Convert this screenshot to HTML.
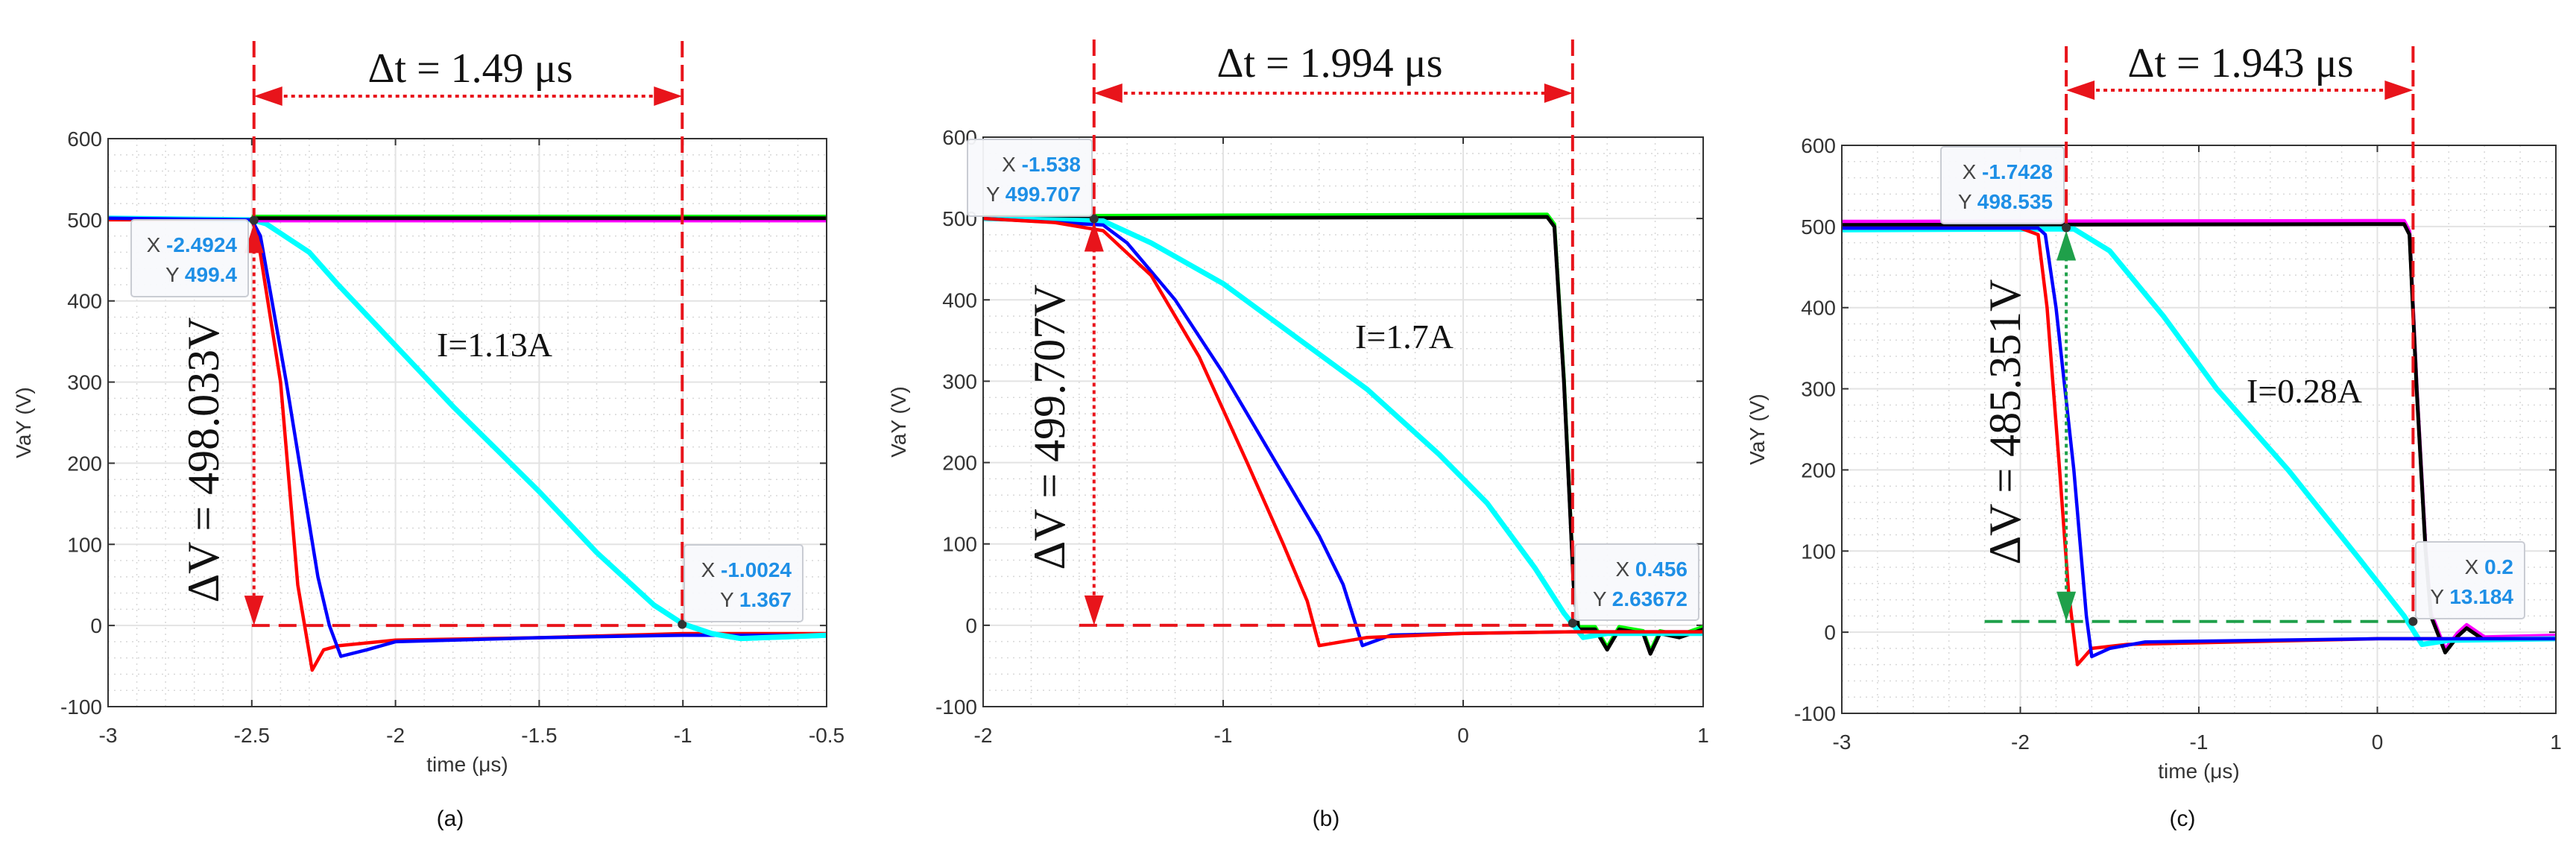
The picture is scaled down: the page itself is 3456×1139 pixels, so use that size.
<!DOCTYPE html>
<html><head><meta charset="utf-8"><style>
html,body{margin:0;padding:0;background:#fff;}
svg{display:block;}
</style></head><body>
<svg id="fig" width="3456" height="1139" xmlns="http://www.w3.org/2000/svg"></svg>
<script>
// ---- Panel (a) data ----
const aX_black=[-2.5,-0.5], aY_black=[502,502];
const aX_cyan=[-3,-2.5,-2.45,-2.3,-2.2,-2.0,-1.8,-1.5,-1.3,-1.1,-1.0,-0.9,-0.8,-0.5];
const aY_cyan=[502,500,495,460,420,345,270,165,90,25,2,-10,-16,-12];
const aX_red=[-3,-2.5,-2.48,-2.4,-2.34,-2.29,-2.25,-2.2,-2.0,-1.5,-1.0,-0.5];
const aY_red=[500,500,480,300,50,-55,-30,-25,-18,-15,-10,-10];
const aX_blue=[-3,-2.5,-2.47,-2.38,-2.27,-2.23,-2.19,-2.1,-2.0,-1.5,-1.0,-0.5];
const aY_blue=[502,500,480,300,60,0,-38,-30,-20,-15,-12,-12];
const aXTicks=[-3,-2.5,-2,-1.5,-1,-0.5];
const aXTickLabels=["-3","-2.5","-2","-1.5","-1","-0.5"];
// ---- Panel (b) data ----
const bX_black=[-2,0.35,0.38,0.42,0.46,0.48,0.55,0.6,0.65,0.75,0.78,0.82,0.9,1];
const bY_black=[500,502,490,300,50,-5,-5,-30,-5,-10,-35,-10,-15,-5];
const bX_red=[-2,-1.7,-1.5,-1.3,-1.1,-0.9,-0.75,-0.65,-0.6,-0.5,-0.4,0,0.45,1];
const bY_red=[500,495,485,430,330,200,100,30,-25,-20,-15,-10,-8,-8];
const bX_blue=[-2,-1.5,-1.4,-1.2,-1.0,-0.8,-0.6,-0.5,-0.42,-0.3,0,0.45,1];
const bY_blue=[500,492,470,400,310,210,110,50,-25,-12,-10,-8,-8];
const bX_cyan=[-2,-1.5,-1.3,-1.0,-0.7,-0.4,-0.1,0.1,0.3,0.42,0.5,0.6,1];
const bY_cyan=[500,497,470,420,355,290,210,150,70,15,-15,-10,-10];
const bXTicks=[-2,-1,0,1];
const bXTickLabels=["-2","-1","0","1"];
// ---- Panel (c) data ----
const cX_black=[-3,0.15,0.18,0.22,0.27,0.3,0.38,0.45,0.5,0.6,1];
const cY_black=[502,503,490,300,100,20,-25,-5,5,-10,-8];
const cX_red=[-3,-2.0,-1.9,-1.85,-1.78,-1.73,-1.68,-1.6,-1.4,0,1];
const cY_red=[498,498,490,400,200,50,-40,-20,-15,-8,-8];
const cX_blue=[-3,-1.9,-1.86,-1.8,-1.7,-1.63,-1.6,-1.5,-1.3,0,1];
const cY_blue=[498,498,490,400,200,20,-30,-20,-12,-8,-8];
const cX_cyan=[-3,-1.7,-1.5,-1.2,-0.9,-0.5,-0.1,0.15,0.25,0.4,1];
const cY_cyan=[496,497,470,390,300,200,90,20,-15,-10,-8];
const cXTicks=[-3,-2,-1,0,1];
const cXTickLabels=["-3","-2","-1","0","1"];
const yTicks=[-100,0,100,200,300,400,500,600];
const yTickLabels=["-100","0","100","200","300","400","500","600"];

const NS="http://www.w3.org/2000/svg";
const svg=document.getElementById('fig');
function mk(tag,attrs,parent,text){const e=document.createElementNS(NS,tag);for(const k in attrs)e.setAttribute(k,attrs[k]);if(text!==undefined)e.textContent=text;(parent||svg).appendChild(e);return e;}

const panels=[
 {id:'a',L:145,R:1109,T:186,B:948,x0:-3,x1:-0.5,minor:0.1,xt:aXTicks,xl:aXTickLabels,
  series:[['#00ffff',aX_cyan,aY_cyan],['#ff00ff',aX_black,aY_black.map(v=>v-3)],['#00ff00',aX_black,aY_black.map(v=>v+2)],['#000',aX_black,aY_black],['#ff0000',aX_red,aY_red],['#0000ff',aX_blue,aY_blue],['#00ffff',aX_cyan.slice(9),aY_cyan.slice(9)]],
  m1:[-2.4924,499.4],m2:[-1.0024,1.367],t1:['-2.4924','499.4'],t2:['-1.0024','1.367'],
  box1:[176,295,157,103],box2:[918,731,159,103],dv:'ΔV = 498.033V',dvx:271,dvy:617,dt:'Δt = 1.49 μs',dtx:631,dty:110,arrY:129,
  I:'I=1.13A',Ix:586,Iy:478,hcol:'#e8141b',hy:0,hx0:-2.5,xlabel:true,cap:'(a)',capx:604,vtop:55},
 {id:'b',L:1319,R:2285,T:184,B:948,x0:-2,x1:1,minor:0.2,xt:bXTicks,xl:bXTickLabels,
  series:[['#ff00ff',bX_black,bY_black.map(v=>v+1)],['#00ff00',bX_black,bY_black.map(v=>v+3)],['#000',bX_black,bY_black],['#00ffff',bX_cyan,bY_cyan],['#0000ff',bX_blue,bY_blue],['#ff0000',bX_red,bY_red]],
  m1:[-1.538,499.707],m2:[0.456,2.63672],t1:['-1.538','499.707'],t2:['0.456','2.63672'],
  box1:[1298,187,167,103],box2:[2113,730,166,102],dv:'ΔV = 499.707V',dvx:1406,dvy:573,dt:'Δt = 1.994 μs',dtx:1784,dty:103,arrY:125,
  I:'I=1.7A',Ix:1818,Iy:467,hcol:'#e8141b',hy:0,hx0:-1.6,xlabel:false,cap:'(b)',capx:1779,vtop:53},
 {id:'c',L:2471,R:3429,T:195,B:957,x0:-3,x1:1,minor:0.2,xt:cXTicks,xl:cXTickLabels,
  series:[['#00ff00',cX_black,cY_black.map(v=>v+3)],['#ff00ff',cX_black,cY_black.map(v=>v+4)],['#000',cX_black,cY_black],['#00ffff',cX_cyan,cY_cyan],['#ff0000',cX_red,cY_red],['#0000ff',cX_blue,cY_blue]],
  m1:[-1.7428,498.535],m2:[0.2,13.184],t1:['-1.7428','498.535'],t2:['0.2','13.184'],
  box1:[2604,197,165,103],box2:[3241,727,146,103],dv:'ΔV = 485.351V',dvx:2688,dvy:566,dt:'Δt = 1.943 μs',dtx:3006,dty:103,arrY:121,
  I:'I=0.28A',Ix:3014,Iy:540,hcol:'#1fa04a',hy:13.184,hx0:-2.2,xlabel:true,cap:'(c)',capx:2928,vtop:62}
];

panels.forEach(p=>{
  const g=mk('g',{});  
  const sx=v=>p.L+(v-p.x0)/(p.x1-p.x0)*(p.R-p.L);
  const sy=v=>p.B-(v+100)/700*(p.B-p.T);
  for(let v=p.x0;v<=p.x1+1e-9;v+=p.minor){mk('line',{x1:sx(v),x2:sx(v),y1:p.T,y2:p.B,stroke:'#d8d8d8','stroke-width':1.5,'stroke-dasharray':'2,6'},g);}
  for(let v=-100;v<=600;v+=20){mk('line',{x1:p.L,x2:p.R,y1:sy(v),y2:sy(v),stroke:'#d8d8d8','stroke-width':1.5,'stroke-dasharray':'2,6'},g);}
  p.xt.forEach((v,i)=>{mk('line',{x1:sx(v),x2:sx(v),y1:p.T,y2:p.B,stroke:'#e3e3e3','stroke-width':2},g);
    const t=mk('text',{x:sx(v),y:p.B+48,'text-anchor':'middle','font-family':'Liberation Sans, sans-serif','font-size':28,fill:'#333'},g,p.xl[i]);
     
    mk('line',{x1:sx(v),x2:sx(v),y1:p.B,y2:p.B-9,stroke:'#333','stroke-width':2},g);
    mk('line',{x1:sx(v),x2:sx(v),y1:p.T,y2:p.T+9,stroke:'#333','stroke-width':2},g);});
  yTicks.forEach((v,i)=>{mk('line',{x1:p.L,x2:p.R,y1:sy(v),y2:sy(v),stroke:'#e3e3e3','stroke-width':2},g);
    const t=mk('text',{x:p.L-8,y:sy(v)+10,'text-anchor':'end','font-family':'Liberation Sans, sans-serif','font-size':28,fill:'#333'},g,yTickLabels[i]);
     
    mk('line',{x1:p.L,x2:p.L+9,y1:sy(v),y2:sy(v),stroke:'#333','stroke-width':2},g);
    mk('line',{x1:p.R,x2:p.R-9,y1:sy(v),y2:sy(v),stroke:'#333','stroke-width':2},g);});
  const yl=mk('text',{x:0,y:0,transform:`translate(${p.L-104},${(p.T+p.B)/2}) rotate(-90)`,'text-anchor':'middle','font-family':'Liberation Sans, sans-serif','font-size':28,fill:'#333'},g,'VaY (V)');
   
  if(p.xlabel){const xl=mk('text',{x:(p.L+p.R)/2,y:p.B+87,'text-anchor':'middle','font-family':'Liberation Sans, sans-serif','font-size':28,fill:'#333'},g,'time (μs)');
     }
  const clip=mk('clipPath',{id:'clip'+p.id},g); mk('rect',{x:p.L,y:p.T,width:p.R-p.L,height:p.B-p.T},clip);
  p.series.forEach(s=>{
    const d=s[1].map((x,i)=>(i?'L':'M')+sx(x).toFixed(1)+','+sy(s[2][i]).toFixed(1)).join(' ');
    const w=s[0]=='#00ffff'?7:(s[0]=='#ff0000'||s[0]=='#0000ff')?4.5:5;
    const pa=mk('path',{d:d,fill:'none',stroke:s[0],'stroke-width':w,'stroke-linejoin':'round','clip-path':`url(#clip${p.id})`},g);
     
  });
  mk('rect',{x:p.L,y:p.T,width:p.R-p.L,height:p.B-p.T,fill:'none',stroke:'#333','stroke-width':2},g);
  const red='#e8141b';
  const x1=sx(p.m1[0]),x2=sx(p.m2[0]),y1=sy(p.m1[1]),y2=sy(p.m2[1]),yh=sy(p.hy);
  mk('line',{x1:x1,x2:x1,y1:p.vtop,y2:y1,stroke:red,'stroke-width':4,'stroke-dasharray':'22,10'},g);
  mk('line',{x1:x2,x2:x2,y1:p.vtop,y2:y2,stroke:red,'stroke-width':4,'stroke-dasharray':'22,10'},g);
  mk('line',{x1:sx(p.hx0),x2:x2,y1:yh,y2:yh,stroke:p.hcol,'stroke-width':4,'stroke-dasharray':'24,12'},g);
  mk('line',{x1:x1+30,x2:x2-30,y1:p.arrY,y2:p.arrY,stroke:red,'stroke-width':4,'stroke-dasharray':'5,5'},g);
  mk('polygon',{points:`${x1},${p.arrY} ${x1+38},${p.arrY-13} ${x1+38},${p.arrY+13}`,fill:red},g);
  mk('polygon',{points:`${x2},${p.arrY} ${x2-38},${p.arrY-13} ${x2-38},${p.arrY+13}`,fill:red},g);
  mk('line',{x1:x1,x2:x1,y1:y1+40,y2:yh-40,stroke:p.hcol,'stroke-width':4,'stroke-dasharray':'5,5'},g);
  mk('polygon',{points:`${x1},${y1+4} ${x1-13},${y1+44} ${x1+13},${y1+44}`,fill:p.hcol},g);
  mk('polygon',{points:`${x1},${yh} ${x1-13},${yh-40} ${x1+13},${yh-40}`,fill:p.hcol},g);
  mk('circle',{cx:x1,cy:y1,r:6,fill:'#333'},g); mk('circle',{cx:x2,cy:y2,r:6,fill:'#333'},g);
  [[p.box1,p.t1],[p.box2,p.t2]].forEach(([b,t])=>{
    const bg=mk('g',{},g);  
    mk('rect',{x:b[0],y:b[1],width:b[2],height:b[3],rx:4,fill:'#f8f9fc','fill-opacity':0.95,stroke:'#c9ccd3','stroke-width':2},bg);
    const tx=mk('text',{x:b[0]+b[2]-15,y:b[1]+43,'text-anchor':'end','font-family':'Liberation Sans, sans-serif','font-size':28},bg);
    mk('tspan',{fill:'#444'},tx,'X '); mk('tspan',{fill:'#1e8fe6','font-weight':'bold'},tx,t[0]);
    const ty=mk('text',{x:b[0]+b[2]-15,y:b[1]+83,'text-anchor':'end','font-family':'Liberation Sans, sans-serif','font-size':28},bg);
    mk('tspan',{fill:'#444'},ty,'Y '); mk('tspan',{fill:'#1e8fe6','font-weight':'bold'},ty,t[1]);
  });
  const dv=mk('text',{x:0,y:0,transform:`translate(${p.dvx+22},${p.dvy}) rotate(-90)`,'text-anchor':'middle','font-family':'Liberation Serif, serif','font-size':60,fill:'#111'},g,p.dv);
   
  const dt=mk('text',{x:p.dtx,y:p.dty,'text-anchor':'middle','font-family':'Liberation Serif, serif','font-size':56,fill:'#111'},g,p.dt);
   
  const il=mk('text',{x:p.Ix,y:p.Iy,'font-family':'Liberation Serif, serif','font-size':46,fill:'#111'},g,p.I);
   
  const cp=mk('text',{x:p.capx,y:1108,'text-anchor':'middle','font-family':'Liberation Sans, sans-serif','font-size':30,fill:'#111'},g,p.cap);
   
});
</script>
</body></html>
